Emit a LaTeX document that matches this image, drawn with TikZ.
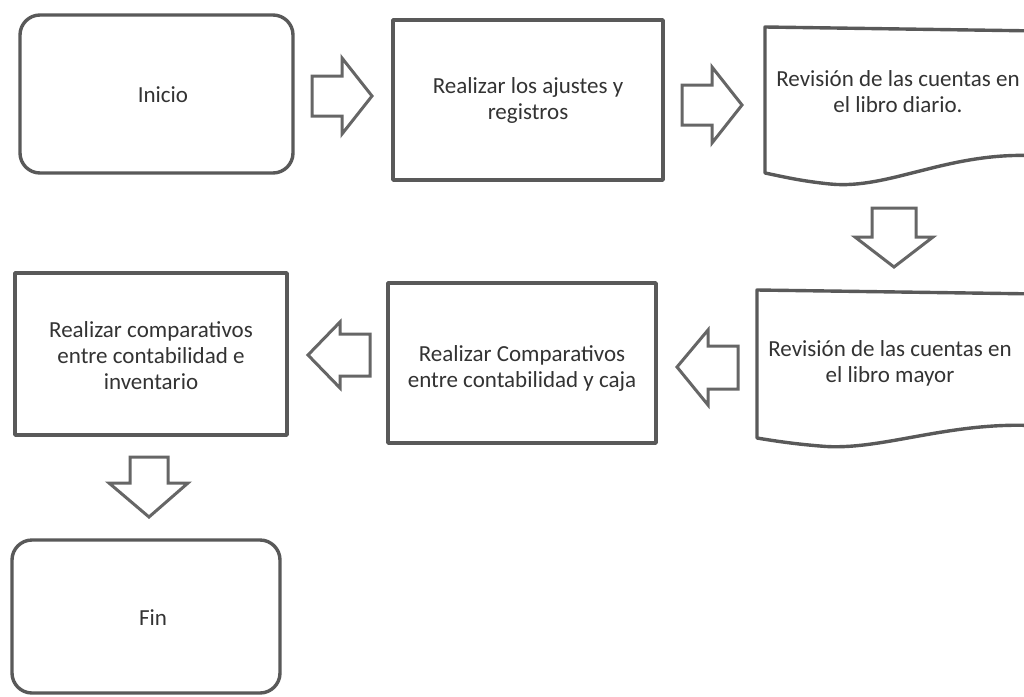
\documentclass[tikz,border=0pt]{standalone}
\usepackage{fontspec}
\setmainfont{Carlito}
\tikzset{
  lbl/.style={align=center, font=\fontsize{23}{26}\selectfont, text=black!80},
  boxline/.style={draw=black!65, line width=3.4pt, line join=round},
  blk/.style={draw=black!60, line width=3pt, fill=white, line join=miter},
}
\begin{document}
\begin{tikzpicture}[x=1pt,y=-1pt]
\useasboundingbox (0,0) rectangle (1024,696);
\clip (0,0) rectangle (1024,696);
\fill[white] (0,0) rectangle (1024,696);
% boxes
\draw[boxline, rounded corners=20pt] (20,15) rectangle (293,173);
\node[lbl] (ini) at (163,95) {Inicio};
\draw[boxline] (393,20) rectangle (663,180);
\node[lbl] (aju) at (528,100) {Realizar los ajustes y\\registros};
\draw[boxline] (765,27) -- (1040,31) -- (1040,156) .. controls (950,150) and (890,190) .. (830,184) .. controls (800,181) and (780,176) .. (765,173) -- cycle;
\node[lbl] (dia) at (898,92) {Revisión de las cuentas en\\el libro diario.};
\draw[boxline] (757,290) -- (1040,294) -- (1040,426) .. controls (950,420) and (880,452) .. (820,446) .. controls (795,444) and (775,441) .. (757,438) -- cycle;
\node[lbl] (may) at (890,363) {Revisión de las cuentas en\\el libro mayor};
\draw[boxline] (388,283) rectangle (656,443);
\node[lbl] (caj) at (522,368) {Realizar Comparativos\\entre contabilidad y caja};
\draw[boxline] (15,273) rectangle (287,435);
\node[lbl] (inv) at (151,356) {Realizar comparativos\\entre contabilidad e\\inventario};
\draw[boxline, rounded corners=20pt] (12,540) rectangle (280,693);
\node[lbl] (fin) at (153,618) {Fin};
% block arrows
\draw[blk, shift={(342,96)}] (-30,-20) -- (0,-20) -- (0,-38) -- (30,0) -- (0,38) -- (0,20) -- (-30,20) -- cycle;
\draw[blk, shift={(712,105)}] (-30,-20) -- (0,-20) -- (0,-38) -- (30,0) -- (0,38) -- (0,20) -- (-30,20) -- cycle;
\draw[blk, shift={(894,237)}] (-22,-29) -- (22,-29) -- (22,0) -- (39,0) -- (0,30) -- (-39,0) -- (-22,0) -- cycle;
\draw[blk, shift={(708,367)}] (30,-21) -- (0,-21) -- (0,-37) -- (-31,0) -- (0,38) -- (0,22) -- (30,22) -- cycle;
\draw[blk, shift={(339,355)}] (31,-21) -- (1,-21) -- (1,-33) -- (-31,0) -- (1,33) -- (1,21) -- (31,21) -- cycle;
\draw[blk, shift={(149,487)}] (-19,-30) -- (19,-30) -- (19,-4) -- (39,-4) -- (0,30) -- (-40,-4) -- (-19,-4) -- cycle;
\end{tikzpicture}
\end{document}
